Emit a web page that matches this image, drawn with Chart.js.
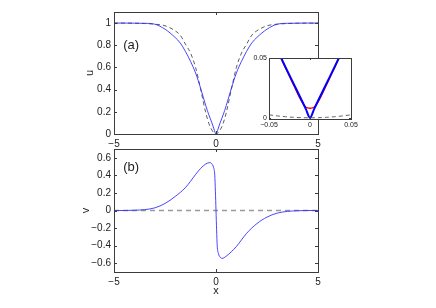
<!DOCTYPE html>
<html>
<head>
<meta charset="utf-8">
<script src="https://cdn.jsdelivr.net/npm/chart.js@4.4.1/dist/chart.umd.min.js"></script>
<style>
  body { margin: 0; background: #fff; }
  canvas { position: absolute; }
  #top { left: 0; top: 0; }
  #bottom { left: 0; top: 140px; }
  #inset { left: 230px; top: 50px; }
</style>
</head>
<body>
<canvas id="top" width="436" height="154"></canvas>
<canvas id="bottom" width="436" height="168"></canvas>
<canvas id="inset" width="130" height="85"></canvas>
<script>
// panel (a): u(x)
const uX      = [-5, -4.5, -4, -3.5, -3, -2.5, -2, -1.75, -1.5, -1.25, -1, -0.75, -0.5, -0.35, -0.2, -0.1, 0,
                 0.1, 0.2, 0.35, 0.5, 0.75, 1, 1.25, 1.5, 1.75, 2, 2.5, 3, 3.5, 4, 4.5, 5];
const uSolid  = [1, 1, 0.999, 0.998, 0.99, 0.945, 0.87, 0.82, 0.745, 0.655, 0.55, 0.41, 0.255, 0.172, 0.1, 0.045, 0,
                 0.045, 0.1, 0.172, 0.255, 0.41, 0.55, 0.655, 0.745, 0.82, 0.87, 0.945, 0.99, 0.998, 0.999, 1, 1];
const uDashed = [1, 1, 0.999, 0.996, 0.99, 0.976, 0.93, 0.89, 0.81, 0.73, 0.60, 0.40, 0.19, 0.095, 0.035, 0.01, 0,
                 0.01, 0.035, 0.095, 0.19, 0.40, 0.60, 0.73, 0.81, 0.89, 0.93, 0.976, 0.99, 0.996, 0.999, 1, 1];

// panel (b): v(x)
const vX     = [-5, -4.5, -4, -3.5, -3, -2.5, -2, -1.5, -1, -0.75, -0.5, -0.3, -0.2, -0.12, -0.06, -0.03, 0,
                0.03, 0.06, 0.12, 0.2, 0.3, 0.5, 0.75, 1, 1.5, 2, 2.5, 3, 3.5, 4, 4.5, 5];
const vSolid = [0, 0, 0.003, 0.01, 0.03, 0.08, 0.16, 0.26, 0.41, 0.48, 0.53, 0.545, 0.53, 0.49, 0.4, 0.22, 0,
                -0.22, -0.4, -0.49, -0.53, -0.545, -0.52, -0.47, -0.41, -0.26, -0.15, -0.075, -0.03, -0.01, -0.003, 0, 0];
const vZeroX = [-5, 5];
const vZero  = [0, 0];

// inset zoom near x = 0
const inBlueX = [-0.04, -0.03, -0.02, -0.01, -0.005, 0, 0.005, 0.01, 0.02, 0.03, 0.04];
const inBlue  = [0.057, 0.0425, 0.0285, 0.0145, 0.0072, 0, 0.0072, 0.0145, 0.0285, 0.0425, 0.057];
const inRedX  = [-0.04, -0.03, -0.02, -0.012, -0.006, -0.003, 0, 0.003, 0.006, 0.012, 0.02, 0.03, 0.04];
const inRed   = [0.057, 0.042, 0.0275, 0.016, 0.0095, 0.0083, 0.008, 0.0083, 0.0095, 0.016, 0.0275, 0.042, 0.057];
const inDashX = [-0.05, -0.04, -0.03, -0.02, -0.01, 0, 0.01, 0.02, 0.03, 0.04, 0.05];
const inDash  = [0.0025, 0.0016, 0.0009, 0.0004, 0.0001, 0, 0.0001, 0.0004, 0.0009, 0.0016, 0.0025];

// ticks
const xTicks  = [-5, 0, 5];
const uTicks  = [0, 0.2, 0.4, 0.6, 0.8, 1];
const vTicks  = [-0.6, -0.4, -0.2, 0, 0.2, 0.4, 0.6];
const inXTicks = [-0.05, 0, 0.05];
const inYTicks = [0, 0.05];

Chart.defaults.font.family = '"Liberation Sans", Arial, Helvetica, sans-serif';
Chart.defaults.color = '#222';

function pts(xs, ys) { return xs.map((x, i) => ({ x: x, y: ys[i] })); }
function fmt(v) { return String(+v.toFixed(4)).replace('-', '\u2212'); }

// frame, inward ticks and panel label
const boxPlugin = {
  id: 'box',
  beforeDraw(chart, args, opts) {
    if (!opts.fill) return;
    const a = chart.chartArea, ctx = chart.ctx;
    ctx.save();
    ctx.fillStyle = opts.fill;
    ctx.fillRect(a.left, a.top, a.right - a.left, a.bottom - a.top);
    ctx.restore();
  },
  afterDatasetsDraw(chart, args, opts) {
    const { ctx, chartArea: a, scales: { x, y } } = chart;
    const t = opts.tick || 3;
    ctx.save();
    ctx.strokeStyle = '#3c3c3c';
    ctx.lineWidth = 1;
    ctx.beginPath();
    x.ticks.forEach(k => {
      const p = Math.round(x.getPixelForValue(k.value)) + 0.5;
      ctx.moveTo(p, a.bottom); ctx.lineTo(p, a.bottom - t);
      ctx.moveTo(p, a.top); ctx.lineTo(p, a.top + t);
    });
    y.ticks.forEach(k => {
      const p = Math.round(y.getPixelForValue(k.value)) + 0.5;
      ctx.moveTo(a.left, p); ctx.lineTo(a.left + t, p);
      ctx.moveTo(a.right, p); ctx.lineTo(a.right - t, p);
    });
    ctx.stroke();
    ctx.strokeRect(Math.round(a.left) + 0.5, Math.round(a.top) + 0.5,
                   Math.round(a.right - a.left), Math.round(a.bottom - a.top));
    if (opts.label) {
      ctx.fillStyle = '#222';
      ctx.font = '13px "Liberation Sans", Arial, sans-serif';
      ctx.textBaseline = 'middle';
      ctx.fillText(opts.label.text, x.getPixelForValue(opts.label.x), y.getPixelForValue(opts.label.y));
    }
    ctx.restore();
  }
};

function xAxis(min, max, ticks, size, h, title) {
  return {
    type: 'linear', min: min, max: max,
    grid: { display: false, drawTicks: false }, border: { display: false },
    afterBuildTicks: s => { s.ticks = ticks.map(v => ({ value: v })); },
    afterFit: s => { s.height = h; },
    ticks: { font: { size: size }, padding: size > 8 ? 4 : 2, maxRotation: 0, callback: v => fmt(v) },
    title: title ? { display: true, text: title, font: { size: 11 }, padding: { top: 0, bottom: 0 } } : { display: false }
  };
}
function yAxis(min, max, ticks, size, w, title) {
  return {
    type: 'linear', min: min, max: max,
    grid: { display: false, drawTicks: false }, border: { display: false },
    afterBuildTicks: s => { s.ticks = ticks.map(v => ({ value: v })); },
    afterFit: s => { s.width = w; },
    ticks: { font: { size: size }, padding: size > 8 ? 3 : 2, callback: v => fmt(v) },
    title: title ? { display: true, text: title, font: { size: 11 }, padding: { top: 1, bottom: 0 } } : { display: false }
  };
}
function line(data, color, width, dash) {
  return {
    data: data, borderColor: color, borderWidth: width, borderDash: dash || [],
    pointRadius: 0, cubicInterpolationMode: 'monotone', fill: false, clip: 0
  };
}
const base = { responsive: false, animation: false, devicePixelRatio: 1, events: [] };

new Chart(document.getElementById('top'), {
  type: 'line',
  data: { datasets: [
    line(pts(uX, uSolid), 'rgba(40,40,255,0.85)', 1),
    line(pts(uX, uDashed), '#333', 0.8, [4, 3])
  ] },
  options: Object.assign({}, base, {
    layout: { padding: { left: 82, right: 118, top: 12, bottom: 0 } },
    scales: { x: xAxis(-5, 5, xTicks, 10, 20), y: yAxis(0, 1.1, uTicks, 10, 32, 'u') },
    plugins: { legend: { display: false }, tooltip: { enabled: false },
               box: { label: { text: '(a)', x: -4.55, y: 0.8 } } }
  }),
  plugins: [boxPlugin]
});

new Chart(document.getElementById('bottom'), {
  type: 'line',
  data: { datasets: [
    line(pts(vX, vSolid), 'rgba(40,40,255,0.85)', 1),
    line(pts(vZeroX, vZero), '#9a9a9a', 1.6, [5, 4])
  ] },
  options: Object.assign({}, base, {
    layout: { padding: { left: 78, right: 118, top: 9, bottom: 10 } },
    scales: { x: xAxis(-5, 5, xTicks, 10, 26, 'x'), y: yAxis(-0.7, 0.7, vTicks, 10, 36, 'v') },
    plugins: { legend: { display: false }, tooltip: { enabled: false },
               box: { label: { text: '(b)', x: -4.55, y: 0.49 } } }
  }),
  plugins: [boxPlugin]
});

new Chart(document.getElementById('inset'), {
  type: 'line',
  data: { datasets: [
    line(pts(inBlueX, inBlue), '#0000ff', 2),
    line(pts(inRedX, inRed), '#ff0000', 1.4),
    line(pts(inDashX, inDash), '#666', 1, [4, 3])
  ] },
  options: Object.assign({}, base, {
    layout: { padding: { left: 19, right: 9, top: 8, bottom: 0 } },
    scales: { x: xAxis(-0.05, 0.05, inXTicks, 7, 16), y: yAxis(-0.001, 0.05, inYTicks, 7, 20) },
    plugins: { legend: { display: false }, tooltip: { enabled: false },
               box: { fill: '#fff', tick: 2 } }
  }),
  plugins: [boxPlugin]
});
</script>
</body>
</html>
